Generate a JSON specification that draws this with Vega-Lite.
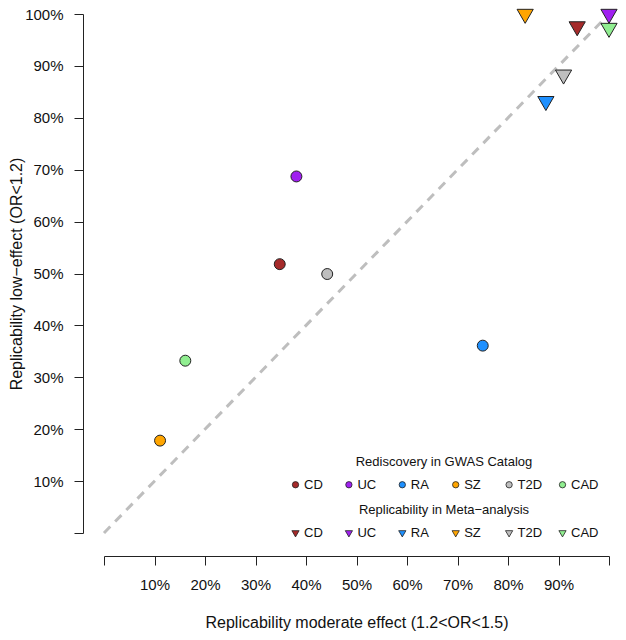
{
  "$schema": "https://vega.github.io/schema/vega-lite/v6.json",
  "width": 505,
  "height": 519,
  "autosize": {"type": "none"},
  "padding": {"left": 104, "top": 14, "right": 17, "bottom": 107},
  "background": "white",
  "config": {
    "font": "Liberation Sans",
    "view": {"stroke": null},
    "axis": {
      "grid": false,
      "domainColor": "#222",
      "tickColor": "#222",
      "labelColor": "#111",
      "titleColor": "#111",
      "labelFont": "Liberation Sans",
      "titleFont": "Liberation Sans",
      "labelFontSize": 15,
      "titleFontSize": 16,
      "titleFontWeight": "normal",
      "tickSize": 9,
      "domainWidth": 1,
      "tickWidth": 1
    },
    "legend": {
      "labelFont": "Liberation Sans",
      "titleFont": "Liberation Sans",
      "labelFontSize": 13,
      "titleFontSize": 13,
      "titleFontWeight": "normal",
      "labelColor": "#111",
      "titleColor": "#111",
      "padding": 0
    }
  },
  "layer": [
    {
      "data": {"values": [{"x": 0, "y": 0}, {"x": 1, "y": 1}]},
      "mark": {"type": "line", "stroke": "#BEBEBE", "strokeWidth": 3, "strokeDash": [9, 7]},
      "encoding": {
        "x": {
          "field": "x", "type": "quantitative",
          "scale": {"domain": [0, 1], "nice": false, "zero": false},
          "axis": {
            "title": "Replicability moderate effect (1.2<OR<1.5)",
            "values": [0, 0.1, 0.2, 0.3, 0.4, 0.5, 0.6, 0.7, 0.8, 0.9, 1],
            "format": ".0%",
            "labelExpr": "datum.value < 0.001 || datum.value > 0.999 ? '' : datum.label",
            "offset": 23,
            "labelPadding": 12,
            "titlePadding": 22
          }
        },
        "y": {
          "field": "y", "type": "quantitative",
          "scale": {"domain": [0, 1], "nice": false, "zero": false},
          "axis": {
            "title": "Replicability low−effect (OR<1.2)",
            "values": [0, 0.1, 0.2, 0.3, 0.4, 0.5, 0.6, 0.7, 0.8, 0.9, 1],
            "format": ".0%",
            "labelExpr": "datum.value < 0.001 ? '' : datum.label",
            "offset": 21,
            "labelPadding": 11,
            "titlePadding": 0
          }
        }
      }
    },
    {
      "data": {"values": [
        {"disease": "CD", "x": 0.348, "y": 0.518},
        {"disease": "UC", "x": 0.381, "y": 0.687},
        {"disease": "RA", "x": 0.750, "y": 0.361},
        {"disease": "SZ", "x": 0.111, "y": 0.178},
        {"disease": "T2D", "x": 0.442, "y": 0.499},
        {"disease": "CAD", "x": 0.161, "y": 0.332}
      ]},
      "mark": {"type": "point", "shape": "circle", "filled": true, "size": 120, "stroke": "#222", "strokeWidth": 1, "opacity": 1},
      "encoding": {
        "x": {"field": "x", "type": "quantitative"},
        "y": {"field": "y", "type": "quantitative"},
        "color": {
          "field": "disease", "type": "nominal",
          "scale": {"domain": ["CD", "UC", "RA", "SZ", "T2D", "CAD"], "range": ["#A52A2A", "#A020F0", "#1E90FF", "#FFA500", "#BEBEBE", "#90EE90"]},
          "legend": {
            "title": "Rediscovery in GWAS Catalog",
            "orient": "none", "legendX": 185, "legendY": 442,
            "direction": "horizontal", "columns": 6, "gridAlign": "all",
            "titleAnchor": "middle", "titleOrient": "top", "titlePadding": 9,
            "symbolType": "circle", "symbolSize": 40,
            "symbolStrokeColor": "#222", "symbolStrokeWidth": 0.8, "symbolOpacity": 1,
            "columnPadding": 10.4, "labelOffset": 2
          }
        }
      }
    },
    {
      "data": {"values": [
        {"disease": "CD", "x": 0.937, "y": 0.976},
        {"disease": "UC", "x": 1.0, "y": 1.0},
        {"disease": "RA", "x": 0.875, "y": 0.832},
        {"disease": "SZ", "x": 0.834, "y": 1.0},
        {"disease": "T2D", "x": 0.910, "y": 0.883},
        {"disease": "CAD", "x": 1.0, "y": 0.973}
      ]},
      "mark": {"type": "point", "shape": "M-0.866,-0.5L0.866,-0.5L0,1Z", "filled": true, "size": 350, "stroke": "#222", "strokeWidth": 1, "opacity": 1},
      "encoding": {
        "x": {"field": "x", "type": "quantitative"},
        "y": {"field": "y", "type": "quantitative"},
        "color": {
          "field": "disease", "type": "nominal",
          "scale": {"domain": ["CD", "UC", "RA", "SZ", "T2D", "CAD"], "range": ["#A52A2A", "#A020F0", "#1E90FF", "#FFA500", "#BEBEBE", "#90EE90"]},
          "legend": {
            "title": "Replicability in Meta−analysis",
            "orient": "none", "legendX": 185, "legendY": 490,
            "direction": "horizontal", "columns": 6, "gridAlign": "all",
            "titleAnchor": "middle", "titleOrient": "top", "titlePadding": 9,
            "symbolType": "M-0.866,-0.5L0.866,-0.5L0,1Z", "symbolSize": 70,
            "symbolStrokeColor": "#222", "symbolStrokeWidth": 0.8, "symbolOpacity": 1,
            "columnPadding": 10.4, "labelOffset": 2
          }
        }
      }
    }
  ],
  "resolve": {"scale": {"color": "independent"}}
}
